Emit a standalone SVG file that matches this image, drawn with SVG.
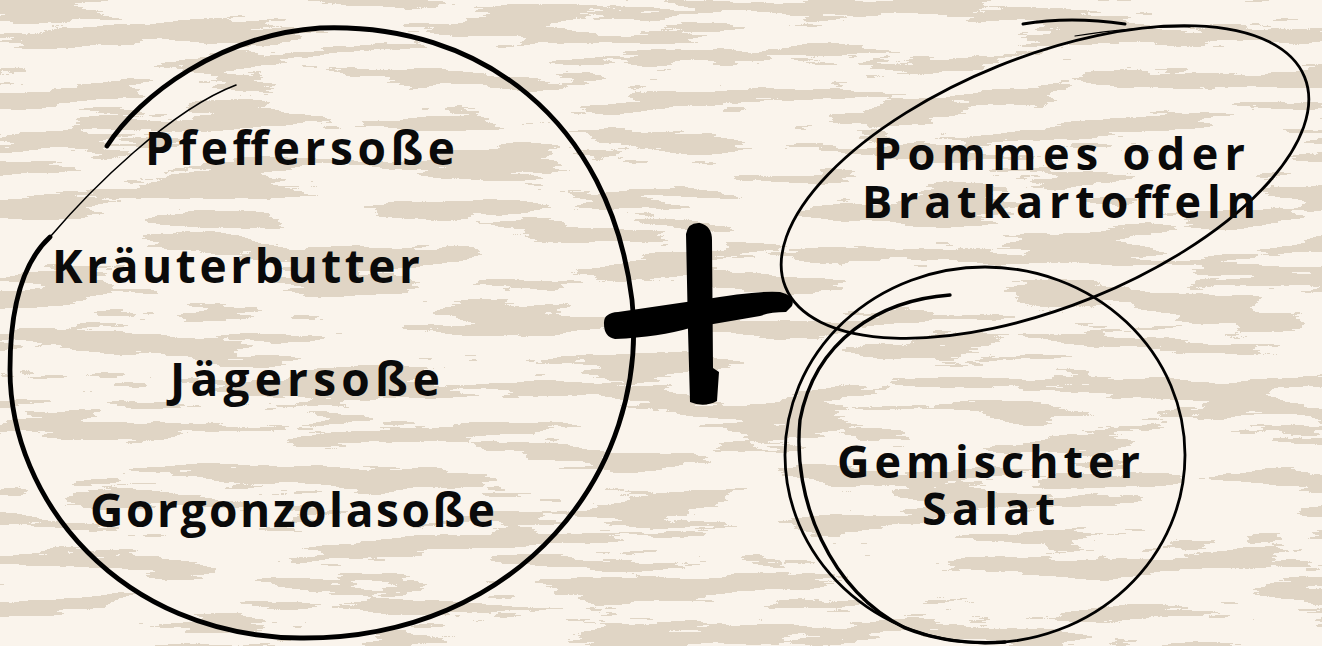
<svg xmlns="http://www.w3.org/2000/svg" width="1322" height="646" viewBox="0 0 1322 646">
<defs>
<style>
.t{font-family:"Open Sans","Liberation Sans",Arial,sans-serif;font-weight:700;fill:#0a0a0a}
.l{font-size:46px}
.r{font-size:45px}
.ln{fill:none;stroke:#000;stroke-linecap:round;stroke-linejoin:round}
</style>
<filter id="wood" x="0" y="0" width="1322" height="646" filterUnits="userSpaceOnUse" color-interpolation-filters="sRGB">
<feTurbulence type="fractalNoise" baseFrequency="0.007 0.045" numOctaves="5" seed="11" result="n"/>
<feColorMatrix in="n" type="matrix" values="0 0 0 0 0.878  0 0 0 0 0.835  0 0 0 0 0.773  1 0 0 0 0"/>
<feComponentTransfer><feFuncA type="discrete" tableValues="0 0 0 0 0 0 0 0 0 0 0 1 1 1 1 1 1 1 1 1"/></feComponentTransfer>
</filter>
</defs>
<rect width="1322" height="646" fill="#faf4ec"/>
<rect width="1322" height="646" filter="url(#wood)"/>

<g id="connectors">
<g id="plus">
<path d="M686,234 Q688,222 700,223 Q712,226 712,240 L713,368 L719,372 L717,401 Q704,408 690,402 L688,330 Z" fill="#000"/>
<path d="M604,324 Q603,313 618,312 L700,300 Q760,290 780,292 Q796,296 792,306 L786,312 Q770,312 760,316 L690,328 Q660,337 615,339 Q604,337 604,324 Z" fill="#000"/>
</g>
</g>

<g id="sauces">
<path class="ln" stroke-width="4.8" d="M107,146 C140,95 220,35 320,28 C480,22 610,120 632,300 C650,470 520,640 300,638 C120,636 10,500 10,370 C10,300 25,260 50,237"/>
<path class="ln" stroke-width="1.6" d="M50,237 C90,190 170,110 236,85"/>
<text class="t l" x="145" y="165" textLength="310" lengthAdjust="spacing">Pfeffersoße</text>
<text class="t l" x="52" y="283" textLength="368" lengthAdjust="spacing">Kräuterbutter</text>
<text class="t l" x="170" y="396" textLength="270" lengthAdjust="spacing">Jägersoße</text>
<text class="t l" x="90" y="527" textLength="405" lengthAdjust="spacing">Gorgonzolasoße</text>
</g>

<g id="pommes">
<ellipse class="ln" stroke-width="2.8" cx="1045" cy="182" rx="280" ry="125" transform="rotate(-22 1045 182)"/>
<path class="ln" stroke-width="3" d="M1023,24 Q1070,16 1125,24"/>
<path class="ln" stroke-width="1.2" d="M1075,36 Q1140,26 1190,27"/>
<text class="t r" x="873" y="170" textLength="372" lengthAdjust="spacing">Pommes oder</text>
<text class="t r" x="862" y="218" textLength="394" lengthAdjust="spacing">Bratkartoffeln</text>
</g>

<g id="salat">
<ellipse class="ln" stroke-width="2.8" cx="985" cy="455" rx="200" ry="188"/>
<path class="ln" stroke-width="3.4" d="M950,295 C880,300 815,340 800,420 C792,500 830,590 905,628 C940,642 975,644 1005,642"/>
<text class="t r" x="837" y="478" textLength="303" lengthAdjust="spacing">Gemischter</text>
<text class="t r" x="922" y="525" textLength="133" lengthAdjust="spacing">Salat</text>
</g>
</svg>
